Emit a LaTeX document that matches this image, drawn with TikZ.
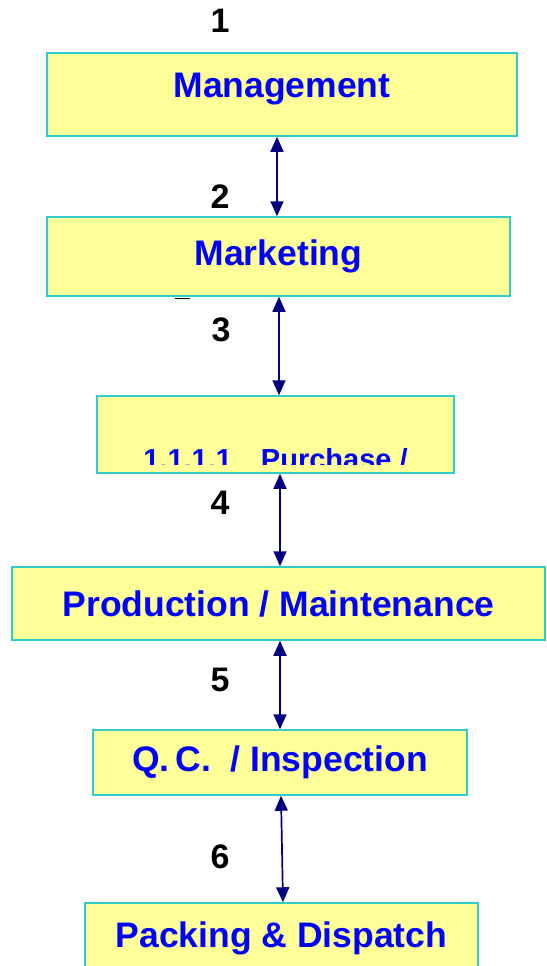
\documentclass[tikz,border=0pt]{standalone}
\usepackage{fontspec}
\setmainfont{Liberation Sans}
\usepackage{tikz}
\usetikzlibrary{arrows.meta,positioning}
\definecolor{boxyellow}{RGB}{255,255,153}
\definecolor{boxteal}{RGB}{51,204,204}
\definecolor{textblue}{RGB}{0,0,255}
\definecolor{arrownavy}{RGB}{0,0,128}
\tikzstyle{stage} = [rectangle, draw=boxteal, fill=boxyellow, line width=1.5pt, inner sep=0pt, text=textblue, font=\fontsize{35.5}{40}\selectfont\bfseries]
\tikzstyle{stagenum} = [inner sep=0pt, text=black, font=\fontsize{34}{38}\selectfont\bfseries]
\tikzstyle{arrow} = [line width=1.7pt, {Triangle[width=13pt,length=15pt]}-{Triangle[width=13pt,length=15pt]}, color=arrownavy]

\begin{document}
\begin{tikzpicture}[x=1pt, y=-1pt]
\useasboundingbox (0,0) rectangle (546,966);

% Department boxes
\node (mgmt) [stage, minimum width=470pt, minimum height=83pt, text depth=19pt] at (282,94.5) {Management};
\node (mktg) [stage, minimum width=463pt, minimum height=79pt] at (278.5,256.5) {Marketing};
\node (purch) [stage, minimum width=357pt, minimum height=77pt] at (275.5,434.5) {};
\node (prod) [stage, minimum width=533pt, minimum height=73pt] at (278.5,603.5) {Production / Maintenance};
\node (qc) [stage, minimum width=374pt, minimum height=65pt] at (280,762.5) {Q.\,C.\ \ / Inspection};
\node (pack) [stage, minimum width=393pt, minimum height=70pt] at (281.5,938) {Packing \& Dispatch};

% Purchase text runs off the bottom of its box
\begin{scope}
\clip (purch.north west) rectangle ([yshift=9pt]purch.south east);
\node (purchtext) [stage, draw=none, fill=none, anchor=base, font=\fontsize{29}{34}\selectfont\bfseries] at ([yshift=4pt]purch.south) {1.1.1.1\hspace{1em}Purchase /};
\end{scope}

% Step numbers
\node (num1) [stagenum] at (220,21) {1};
\node (num2) [stagenum] at (220,197) {2};
\node (num3) [stagenum] at (221,330) {3};
\node (num4) [stagenum] at (220,503) {4};
\node (num5) [stagenum] at (220,680) {5};
\node (num6) [stagenum] at (220,857) {6};

% small mark under Marketing
\draw[line width=1.2pt] ([xshift=129pt,yshift=-1.5pt]mktg.south west) -- ++(15,0);

% Arrows
\draw[arrow] ([xshift=-5pt]mgmt.south) -- ([xshift=-1.5pt]mktg.north);
\draw[arrow] ([xshift=0.5pt]mktg.south) -- ([xshift=3.5pt]purch.north);
\draw[arrow] ([xshift=4.5pt]purch.south) -- ([xshift=1.5pt]prod.north);
\draw[arrow] ([xshift=1.5pt]prod.south) -- ([xshift=0pt]qc.north);
\draw[arrow] ([xshift=1pt]qc.south) -- ([xshift=1.5pt]pack.north);
\end{tikzpicture}
\end{document}
